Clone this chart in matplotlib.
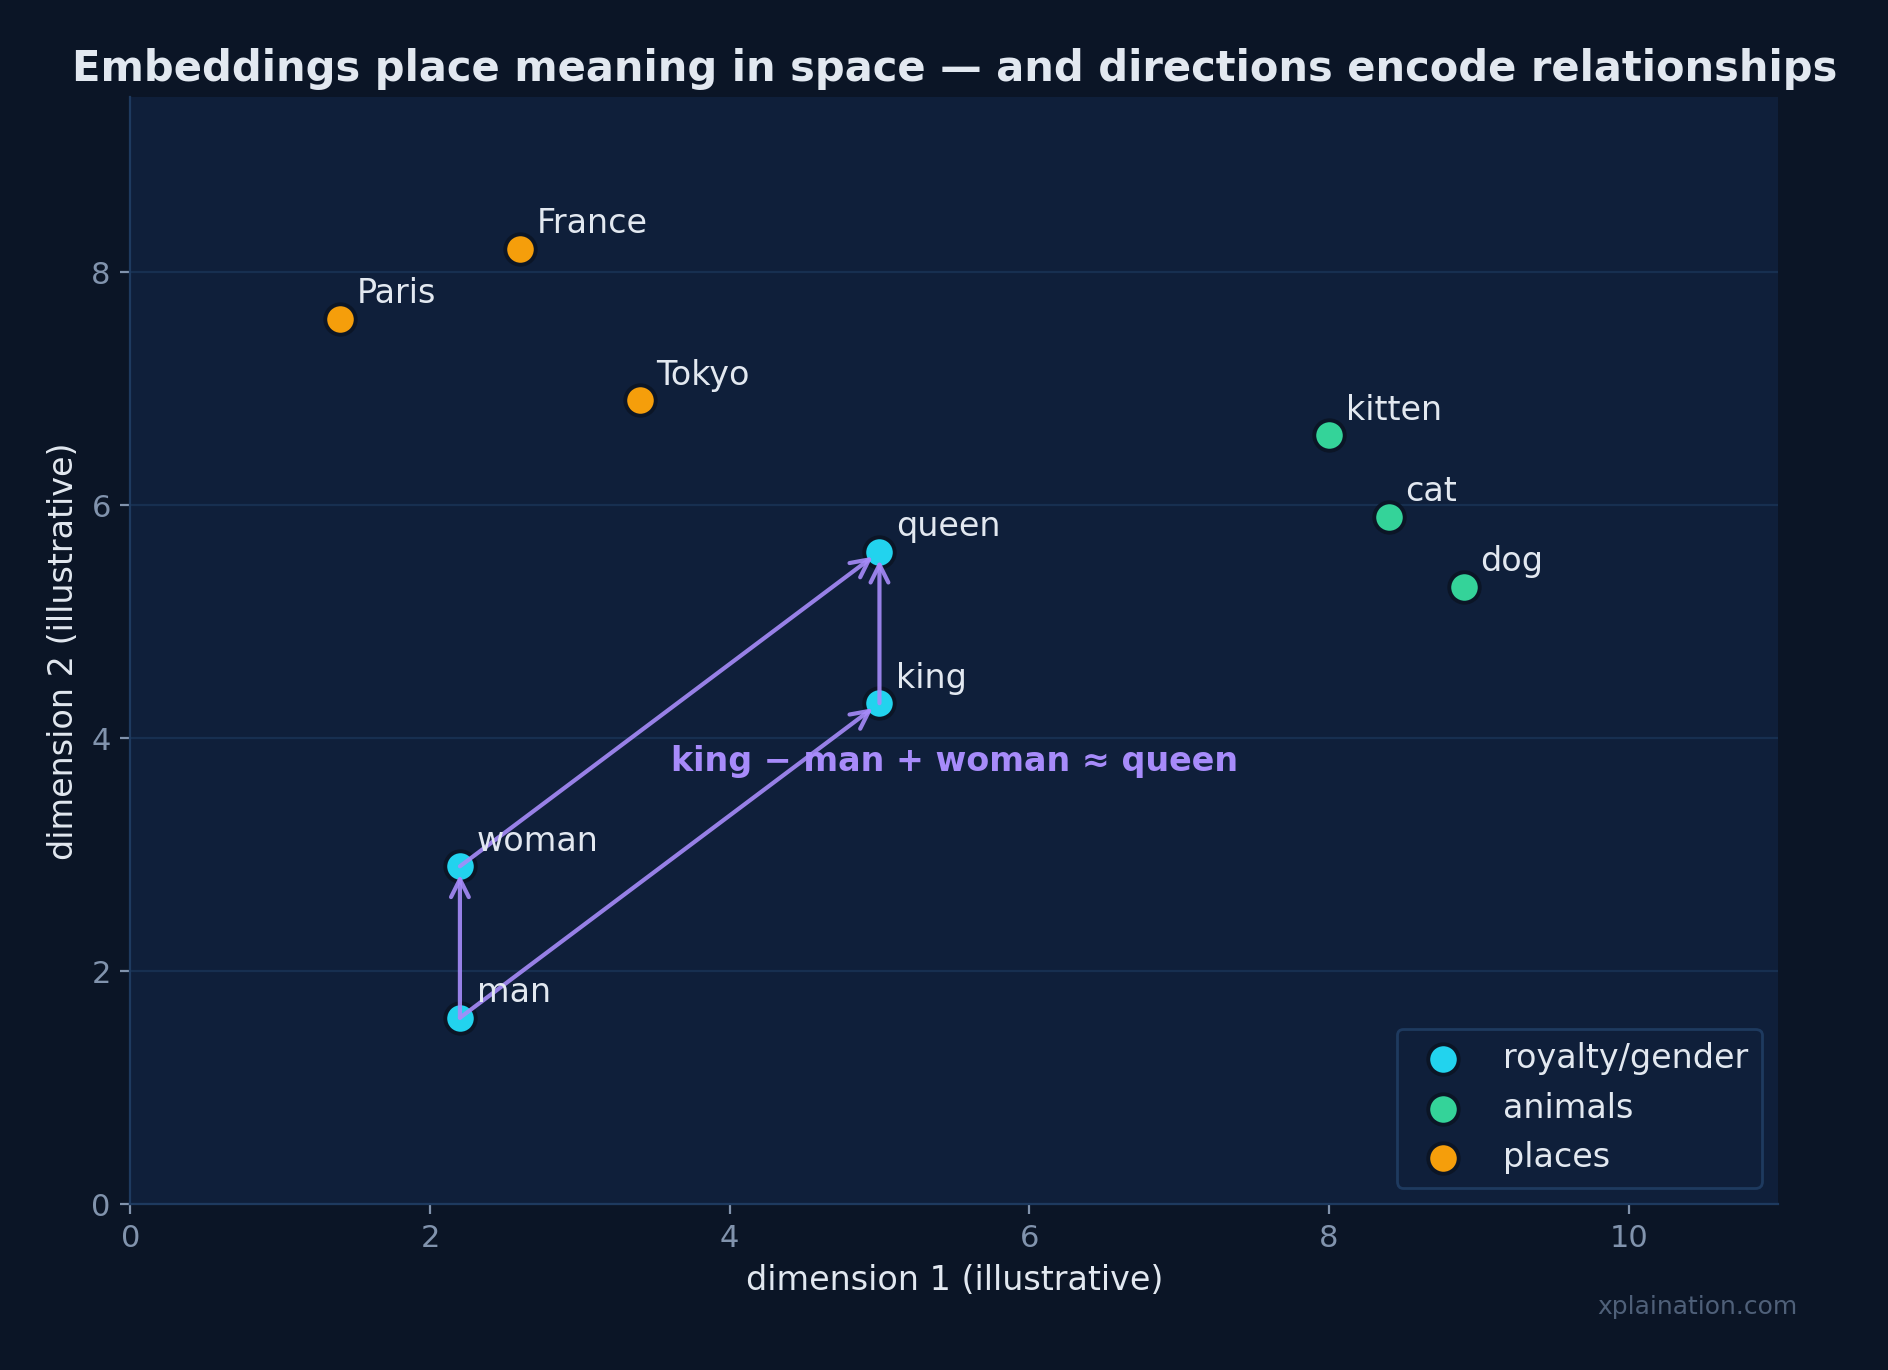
import matplotlib
matplotlib.use('Agg')
import matplotlib.pyplot as plt

# word positions (illustrative 2-D embedding)
royal_words = ['man', 'woman', 'king', 'queen']
royal_x = [2.2, 2.2, 5.0, 5.0]
royal_y = [1.6, 2.9, 4.3, 5.6]

animal_words = ['kitten', 'cat', 'dog']
animal_x = [8.0, 8.4, 8.9]
animal_y = [6.6, 5.9, 5.3]

place_words = ['Paris', 'France', 'Tokyo']
place_x = [1.4, 2.6, 3.4]
place_y = [7.6, 8.2, 6.9]

# vector arithmetic arrows (from -> to)
arrows = [('man', 'king'), ('man', 'woman'), ('woman', 'queen'), ('king', 'queen')]

BG = '#0b1526'
AX = '#0f1f3a'
TXT = '#e2e8f0'
TICK = '#8193ad'
EDGE = '#1e3a5f'
PURPLE = '#a78bfa'

fig, ax = plt.subplots(figsize=(9.44, 6.85), dpi=200)
fig.patch.set_facecolor(BG)
ax.set_facecolor(AX)
fig.subplots_adjust(left=0.069, right=0.942, top=0.929, bottom=0.121)

groups = [
    ('royalty/gender', royal_words, royal_x, royal_y, '#22d3ee'),
    ('animals', animal_words, animal_x, animal_y, '#34d399'),
    ('places', place_words, place_x, place_y, '#f59e0b'),
]
pos = {}
for name, words, xs, ys, col in groups:
    ax.scatter(xs, ys, s=120, color=col, edgecolor=BG, linewidth=1.4, zorder=3, label=name)
    for w, x, y in zip(words, xs, ys):
        pos[w] = (x, y)
        ax.annotate(w, (x, y), xytext=(6, 3), textcoords='offset points',
                    color=TXT, fontsize=12, ha='left', va='bottom', zorder=5)

for a, b in arrows:
    ax.annotate('', xy=pos[b], xytext=pos[a],
                arrowprops=dict(arrowstyle='->', color=PURPLE, lw=1.5, alpha=0.9,
                                shrinkA=0, shrinkB=3, mutation_scale=16),
                zorder=4)

ax.text(5.5, 3.8, 'king − man + woman ≈ queen', color=PURPLE, fontsize=12,
        fontweight='bold', ha='center', va='center', zorder=6)

ax.set_xlim(0, 11)
ax.set_ylim(0, 9.5)
ax.set_xticks([0, 2, 4, 6, 8, 10])
ax.set_yticks([0, 2, 4, 6, 8])
ax.grid(axis='y', color=EDGE, alpha=0.6, lw=0.8)
ax.set_axisbelow(True)
for s in ['top', 'right']:
    ax.spines[s].set_visible(False)
for s in ['left', 'bottom']:
    ax.spines[s].set_color(EDGE)
ax.tick_params(colors=TICK, labelsize=11)

ax.set_xlabel('dimension 1 (illustrative)', color=TXT, fontsize=12)
ax.set_ylabel('dimension 2 (illustrative)', color=TXT, fontsize=12)
ax.set_title('Embeddings place meaning in space — and directions encode relationships',
             color=TXT, fontsize=15, fontweight='bold', pad=6)

leg = ax.legend(loc='lower right', facecolor=AX, edgecolor=EDGE, fontsize=12,
                labelcolor=TXT, framealpha=1, borderpad=0.4)

fig.text(0.952, 0.046, 'xplaination.com', color='#4f6079', fontsize=9, ha='right', va='center')

fig.savefig('out.png', dpi=200, facecolor=BG)
